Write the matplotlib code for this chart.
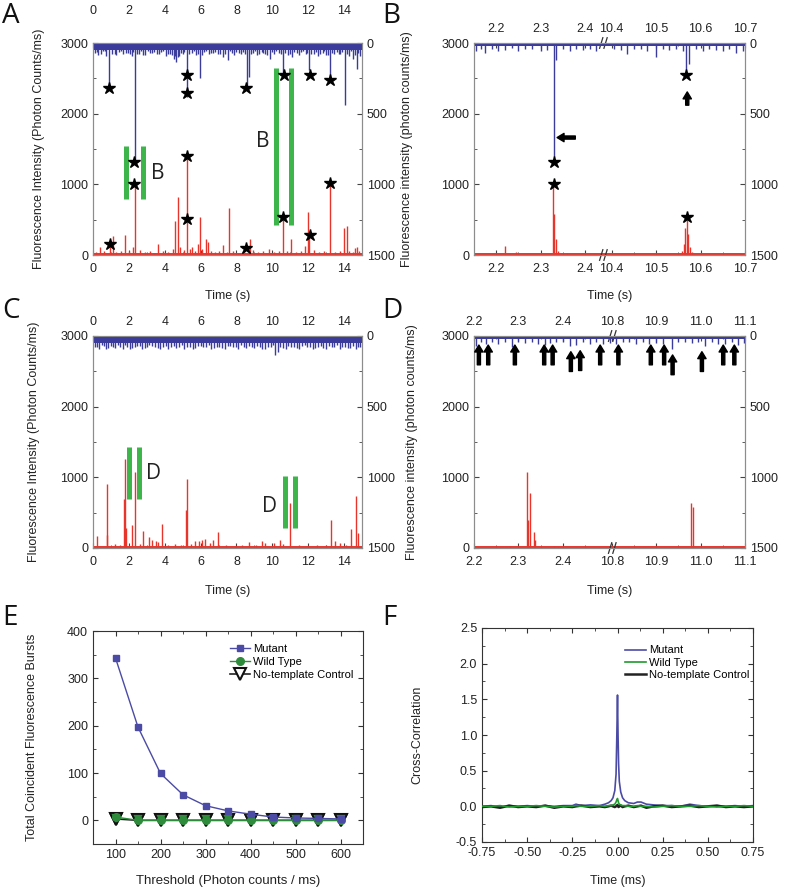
import matplotlib
matplotlib.use('Agg')
import matplotlib.pyplot as plt
from matplotlib.ticker import MultipleLocator

plt.rcParams['font.family'] = ['Liberation Sans', 'DejaVu Sans']
plt.rcParams['font.size'] = 9
plt.rcParams['xtick.direction'] = 'in'
plt.rcParams['ytick.direction'] = 'in'

BLUE = '#3b3b9b'
RED = '#e8352b'
GREEN = '#3db54a'
GREY = '#8c8c8c'
TXT = '#222222'

# ---- panel A: 15 s trace, mutant ----
A_red_t = [0.15, 0.4, 0.6, 0.93, 1.1, 1.3, 1.55, 1.8, 2.0, 2.25, 2.33, 2.6, 2.9, 3.2, 3.4,
           3.65, 3.9, 4.2, 4.45, 4.6, 4.72, 4.85, 5.05, 5.26, 5.4, 5.5, 5.7, 5.85, 5.95, 6.1,
           6.3, 6.4, 6.6, 6.8, 7.0, 7.25, 7.45, 7.6, 7.8, 8.1, 8.4, 8.75, 8.9, 9.2, 9.5,
           9.8, 10.1, 10.35, 10.6, 10.8, 11.05, 11.3, 11.6, 11.8, 11.97, 12.05, 12.3, 12.6, 12.9, 13.2,
           13.5, 13.8, 14.0, 14.15, 14.3, 14.5, 14.6, 14.7, 14.85]
A_red_v = [40, 118, 55, 180, 268, 45, 60, 283, 50, 118, 1010, 70, 45, 60, 35,
           150, 50, 40, 90, 485, 824, 120, 70, 1408, 90, 108, 60, 150, 541, 80,
           221, 188, 60, 45, 55, 141, 40, 659, 50, 35, 60, 221, 70, 40, 55,
           80, 45, 60, 541, 50, 221, 40, 55, 127, 603, 306, 70, 40, 50, 1017,
           45, 60, 381, 410, 50, 40, 94, 108, 60]
A_blue_t = [0.1, 0.3, 0.55, 0.75, 0.9, 1.2, 1.45, 1.7, 1.95, 2.15, 2.33, 2.55, 2.8, 3.05, 3.3,
            3.55, 3.8, 4.05, 4.3, 4.5, 4.65, 4.8, 5.0, 5.26, 5.5, 5.75, 5.95, 6.2, 6.45, 6.7,
            6.95, 7.25, 7.5, 7.75, 8.0, 8.25, 8.45, 8.6, 8.68, 8.9, 9.15, 9.4, 9.6, 9.85, 10.1,
            10.35, 10.6, 10.85, 11.1, 11.35, 11.6, 11.85, 12.05, 12.3, 12.55, 12.8, 13.0, 13.2, 13.45, 13.7,
            13.9, 14.05, 14.3, 14.5, 14.7, 14.9]
A_blue_v = [70, 85, 60, 90, 320, 75, 65, 80, 70, 90, 830, 75, 85, 60, 70,
            80, 65, 90, 75, 110, 134, 95, 80, 380, 70, 85, 245, 65, 80, 70,
            75, 100, 120, 70, 65, 80, 75, 322, 240, 70, 85, 65, 80, 110, 75,
            70, 217, 85, 100, 70, 65, 80, 193, 75, 90, 70, 85, 264, 75, 80,
            65, 436, 90, 110, 181, 95]
A_blue_noise_t = [0.2, 0.45, 0.65, 1.05, 1.3, 1.58, 1.82, 2.05, 2.25, 2.45, 2.68, 2.92, 3.18, 3.42, 3.68,
                  3.92, 4.18, 4.4, 4.58, 4.72, 4.9, 5.1, 5.38, 5.62, 5.85, 6.08, 6.32, 6.58, 6.82, 7.08,
                  7.38, 7.62, 7.88, 8.12, 8.35, 8.8, 9.02, 9.28, 9.5, 9.72, 9.98, 10.22, 10.48, 10.72, 10.98,
                  11.22, 11.48, 11.72, 11.95, 12.18, 12.42, 12.68, 12.9, 13.1, 13.32, 13.58, 13.8, 14.15, 14.4, 14.6,
                  14.8]
A_blue_noise_v = [65, 80, 60, 75, 85, 60, 70, 80, 65, 75, 60, 85, 70, 65, 80,
                  60, 75, 85, 90, 100, 70, 65, 80, 60, 75, 85, 60, 70, 65, 80,
                  75, 60, 85, 70, 65, 80, 60, 75, 70, 85, 65, 60, 80, 70, 75,
                  65, 85, 60, 70, 80, 65, 75, 60, 85, 70, 65, 80, 75, 60, 85,
                  70]
A_star_red_t = [0.93, 2.29, 5.26, 5.26, 8.55, 10.6, 12.08, 13.23]
A_star_red_v = [155, 1008, 1408, 509, 94, 537, 278, 1017]
A_star_blue_t = [0.87, 2.29, 5.26, 5.26, 8.55, 10.63, 12.08, 13.23]
A_star_blue_v = [316, 845, 228, 351, 316, 226, 224, 261]

# ---- panel B: zoom on two windows of A ----
B_red_t = [2.16, 2.19, 2.22, 2.245, 2.27, 2.3, 2.328, 2.331, 2.335, 2.34, 2.36, 2.39, 2.42,
           10.42, 10.45, 10.5, 10.53, 10.558, 10.562, 10.566, 10.569, 10.572, 10.576, 10.58,
           10.62, 10.66, 10.69]
B_red_v = [15, 12, 125, 40, 12, 15, 1000, 580, 230, 60, 30, 12, 10,
           10, 12, 10, 12, 60, 160, 380, 540, 300, 120, 40,
           12, 10, 12]
B_blue_t = [2.155, 2.165, 2.175, 2.19, 2.205, 2.22, 2.235, 2.25, 2.265, 2.28, 2.3, 2.315, 2.329,
            2.335, 2.35, 2.365, 2.38, 2.395, 2.41, 2.425, 10.405, 10.42, 10.435, 10.45, 10.465,
            10.48, 10.5, 10.515, 10.53, 10.545, 10.56, 10.568, 10.575, 10.59, 10.605, 10.62,
            10.635, 10.65, 10.665, 10.68, 10.695]
B_blue_v = [60, 45, 70, 40, 55, 50, 35, 60, 45, 40, 55, 50, 805,
            120, 45, 55, 40, 50, 45, 55, 40, 50, 80, 45, 40,
            55, 100, 45, 50, 40, 60, 224, 150, 45, 55, 40,
            50, 60, 45, 70, 55]
B_star_red_t = [2.329, 10.569]
B_star_red_v = [1008, 537]
B_star_blue_t = [2.329, 10.568]
B_star_blue_v = [845, 224]

# ---- panel C: 15 s trace, wild type ----
C_red_t = [0.25, 0.78, 0.8, 1.2, 1.5, 1.75, 1.8, 1.85, 2.15, 2.35, 2.6, 2.8, 3.15, 3.3, 3.5,
           3.65, 3.85, 4.2, 4.55, 4.9, 5.2, 5.25, 5.45, 5.7, 5.9, 6.1, 6.25, 6.5, 6.7, 6.95,
           7.4, 7.9, 8.3, 8.7, 9.1, 9.4, 9.6, 10.1, 10.4, 10.6, 11.0, 11.5, 12.0, 12.5, 13.0,
           13.25, 13.5, 13.75, 14.1, 14.4, 14.65, 14.8]
C_red_v = [174, 188, 904, 50, 40, 692, 1257, 283, 330, 1074, 60, 245, 150, 118, 94,
           80, 344, 45, 61, 40, 541, 980, 50, 94, 104, 118, 132, 70, 118, 221,
           40, 35, 45, 85, 40, 104, 70, 70, 118, 55, 636, 40, 35, 45, 40,
           391, 94, 70, 45, 273, 739, 212]
C_blue_t = [0.1, 0.35, 0.6, 0.85, 1.1, 1.4, 1.65, 1.9, 2.2, 2.45, 2.75, 3.0, 3.3, 3.6, 3.9,
            4.2, 4.5, 4.8, 5.1, 5.4, 5.7, 6.0, 6.3, 6.6, 6.9, 7.2, 7.5, 7.8, 8.1, 8.4,
            8.7, 9.0, 9.3, 9.6, 9.9, 10.15, 10.45, 10.75, 11.05, 11.35, 11.65, 11.95, 12.25, 12.55, 12.85,
            13.15, 13.45, 13.75, 14.05, 14.35, 14.65, 14.9]
C_blue_v = [75, 90, 70, 85, 80, 65, 95, 75, 85, 70, 90, 80, 70, 85, 75,
            90, 70, 80, 95, 75, 85, 70, 80, 90, 75, 85, 70, 80, 90, 75,
            70, 85, 80, 90, 75, 135, 80, 90, 75, 85, 70, 80, 90, 75, 85,
            70, 80, 95, 75, 85, 90, 80]
C_blue_noise_t = [0.22, 0.48, 0.72, 0.98, 1.25, 1.52, 1.78, 2.05, 2.32, 2.6, 2.88, 3.15, 3.45, 3.75, 4.05,
                  4.35, 4.65, 4.95, 5.25, 5.55, 5.85, 6.15, 6.45, 6.75, 7.05, 7.35, 7.65, 7.95, 8.25, 8.55,
                  8.85, 9.15, 9.45, 9.75, 10.05, 10.3, 10.6, 10.9, 11.2, 11.5, 11.8, 12.1, 12.4, 12.7, 13.0,
                  13.3, 13.6, 13.9, 14.2, 14.5, 14.78]
C_blue_noise_v = [80, 65, 90, 70, 85, 75, 65, 90, 80, 70, 85, 65, 75, 90, 70,
                  80, 85, 65, 75, 90, 70, 80, 65, 85, 75, 90, 70, 80, 65, 85,
                  75, 70, 90, 80, 65, 110, 85, 70, 80, 90, 65, 75, 85, 70, 90,
                  80, 65, 75, 85, 70, 80]

# ---- panel D: zoom on two windows of C ----
D_red_t = [2.21, 2.25, 2.28, 2.3, 2.319, 2.322, 2.326, 2.335, 2.338, 2.36, 2.38, 2.39, 2.43, 2.47, 2.5,
           10.83, 10.87, 10.93, 10.979, 10.982, 11.02, 11.07]
D_red_v = [10, 12, 25, 12, 1070, 400, 780, 230, 120, 12, 25, 20, 12, 10, 12,
           10, 12, 10, 640, 580, 12, 10]
D_blue_t = [2.205, 2.215, 2.228, 2.24, 2.255, 2.27, 2.285, 2.3, 2.315, 2.33, 2.345, 2.36, 2.372, 2.385,
            2.4, 2.415, 2.43, 2.445, 2.46, 2.475, 2.49, 2.505,
            10.81, 10.825, 10.84, 10.855, 10.87, 10.885, 10.9, 10.915, 10.935, 10.95, 10.965, 10.98,
            10.995, 11.01, 11.025, 11.04, 11.055, 11.07, 11.085, 11.097]
D_blue_v = [70, 45, 60, 40, 55, 45, 75, 40, 50, 45, 55, 65, 50, 45,
            40, 70, 65, 45, 55, 40, 60, 50,
            55, 45, 40, 60, 45, 55, 50, 60, 95, 45, 40, 50,
            45, 70, 40, 55, 60, 45, 65, 50]
D_arrow_t = [2.211, 2.232, 2.292, 2.358, 2.377, 2.418, 2.439, 2.484,
             10.815, 10.888, 10.918, 10.937, 11.003, 11.051, 11.076]
D_arrow_tip = [64, 64, 64, 64, 64, 111, 104, 64, 64, 64, 64, 134, 111, 64, 64]

# ---- panel E: coincident bursts vs threshold ----
E_thr = [100, 150, 200, 250, 300, 350, 400, 450, 500, 550, 600]
E_mut = [343, 197, 99, 54, 31, 20, 13, 7, 5, 4, 3]
E_wt = [7, 0, 0, 0, 0, 0, 0, 0, 0, 0, 0]
E_ntc = [3, 0, 0, 0, 0, 0, 0, 0, 0, 0, 0]

# ---- panel F: cross-correlation ----
F_t = [-0.75, -0.70, -0.65, -0.60, -0.55, -0.50, -0.45, -0.40, -0.35, -0.30,
       -0.25, -0.23, -0.20, -0.15, -0.10, -0.07, -0.05, -0.035, -0.025, -0.015,
       -0.008, -0.004, 0.0, 0.003, 0.006, 0.01, 0.018, 0.028, 0.04, 0.06,
       0.09, 0.11, 0.13, 0.16, 0.2, 0.25, 0.3, 0.35, 0.4, 0.45,
       0.5, 0.55, 0.6, 0.65, 0.7, 0.75]
F_mut = [0.0, 0.01, -0.01, 0.01, 0.0, 0.01, 0.0, 0.01, 0.0, 0.01,
         0.01, 0.03, 0.01, 0.02, 0.01, 0.03, 0.05, 0.08, 0.12, 0.22,
         0.45, 0.95, 1.56, 1.0, 0.6, 0.35, 0.2, 0.12, 0.08, 0.05,
         0.04, 0.06, 0.06, 0.03, 0.02, 0.01, 0.01, 0.0, 0.03, 0.01,
         0.0, 0.01, 0.0, 0.01, 0.0, 0.01]
F_wt = [0.0, 0.0, 0.01, -0.01, 0.0, 0.0, 0.01, 0.0, -0.01, 0.0,
        0.0, 0.01, 0.0, 0.0, 0.01, 0.0, 0.01, 0.01, 0.02, 0.03,
        0.06, 0.09, 0.11, 0.08, 0.05, 0.03, 0.02, 0.01, 0.01, 0.0,
        0.0, 0.01, 0.0, 0.0, -0.01, 0.0, 0.01, 0.0, 0.0, 0.01,
        0.0, -0.01, 0.0, 0.0, 0.01, 0.0]
F_ntc = [-0.01, 0.0, -0.02, 0.01, -0.01, 0.0, -0.01, 0.01, -0.02, 0.0,
         -0.01, 0.0, 0.01, -0.01, 0.0, -0.01, 0.0, 0.01, 0.0, -0.01,
         0.0, 0.01, 0.02, 0.0, -0.01, 0.0, 0.01, -0.01, 0.0, 0.01,
         -0.01, 0.0, 0.01, -0.02, 0.0, 0.01, -0.01, 0.0, 0.01, -0.01,
         0.0, 0.01, -0.01, 0.0, -0.01, 0.0]

fig = plt.figure(figsize=(8, 8.93), dpi=100)


def px_axes(l, t, r, b):
    return fig.add_axes([l / 800, 1 - b / 893, (r - l) / 800, (b - t) / 893])


def brk(t, cut, start):
    # map times of a broken axis onto one continuous coordinate
    return [x if x < 5 else x - start + cut for x in t]


def trace_axes(ax, xlim, ylabel, ylab_x, xlab_y):
    ax.set_xlim(*xlim)
    ax.set_ylim(0, 3000)
    ax.set_yticks([0, 1000, 2000, 3000])
    ax.yaxis.set_minor_locator(MultipleLocator(500))
    ax.tick_params(which='both', top=True, labeltop=True, colors='#444444', labelcolor=TXT)
    ax.tick_params(axis='x', which='major', pad=5.5)
    ax2 = ax.twinx()
    ax2.set_ylim(1500, 0)
    ax2.set_yticks([0, 500, 1000, 1500])
    ax2.yaxis.set_minor_locator(MultipleLocator(250))
    ax2.tick_params(which='both', colors='#444444', labelcolor=TXT)
    for sp in list(ax.spines.values()) + list(ax2.spines.values()):
        sp.set_color(GREY)
    ax.set_xlabel('Time (s)', color=TXT)
    ax.xaxis.set_label_coords(0.5, xlab_y)
    ax.set_ylabel(ylabel, color=TXT)
    ax.yaxis.set_label_coords(ylab_x, 0.5)
    return ax2


def draw_traces(ax, ax2, rt, rv, bt, bv, xlim, band, red_base):
    ax.plot(xlim, [red_base, red_base], color=RED, lw=1.4, zorder=2)
    ax.vlines(rt, 0, rv, color=RED, lw=1.0, zorder=2)
    ax2.fill_between(xlim, 0, band, color=BLUE, lw=0, zorder=2)
    ax2.vlines(bt, 0, bv, color=BLUE, lw=1.0, zorder=2)


def break_marks(ax, xb):
    for y0 in (0, 1):
        for dx in (-0.012, 0.004):
            ax.plot([xb + dx, xb + dx + 0.012], [y0 - 0.025, y0 + 0.025], color='#333333',
                    lw=0.9, transform=ax.transAxes, clip_on=False, zorder=5)


def stars(ax, t, v):
    ax.plot(t, v, ls='none', marker='*', ms=9, color='black', zorder=6)


ARROW = 'simple,head_length=1.0,head_width=1.2,tail_width=0.45'


def up_arrow(ax, x, tip, length):
    ax.annotate('', xy=(x, tip), xytext=(x, tip + length),
                arrowprops=dict(arrowstyle=ARROW, color='black', mutation_scale=5,
                                shrinkA=0, shrinkB=0), zorder=6)


YL_A = 'Fluorescence Intensity (Photon Counts/ms)'
YL_B = 'Fluorescence intensity (photon counts/ms)'

# ---- A ----
axA = px_axes(93, 43, 362, 255)
axA2 = trace_axes(axA, (0, 15), YL_A, -0.178, -0.165)
axA.set_xticks(range(0, 16, 2))
axA.xaxis.set_minor_locator(MultipleLocator(1))
axA.tick_params(axis='x', labeltop=False)
topA = axA.secondary_xaxis('top')
topA.set_xticks(range(0, 16, 2))
topA.tick_params(length=0, pad=19, labelcolor=TXT)
topA.spines['top'].set_visible(False)
draw_traces(axA, axA2, A_red_t, A_red_v, A_blue_t, A_blue_v, (0, 15), 50, 18)
axA2.vlines(A_blue_noise_t, 0, A_blue_noise_v, color=BLUE, lw=1.0, zorder=2)
stars(axA, A_star_red_t, A_star_red_v)
stars(axA2, A_star_blue_t, A_star_blue_v)
for x0, x1, y0, y1 in [(1.86, 2.79, 796, 1540), (10.19, 11.04, 424, 2647)]:
    axA.vlines([x0, x1], y0, y1, color=GREEN, lw=3.6, zorder=4)
axA.text(3.62, 1154, 'B', fontsize=15, family='Open Sans', ha='center', va='center', color=TXT)
axA.text(9.48, 1600, 'B', fontsize=15, family='Open Sans', ha='center', va='center', color=TXT)

# ---- B ----
B_CUT, B_START = 2.44, 10.38
axB = px_axes(474, 43, 745, 255)
bxlim = (2.15, B_CUT + 10.70 - B_START)
axB2 = trace_axes(axB, bxlim, YL_B, -0.225, -0.165)
bt_ticks = [2.2, 2.3, 2.4, 10.4, 10.5, 10.6, 10.7]
axB.set_xticks(brk(bt_ticks, B_CUT, B_START))
axB.set_xticklabels([f'{v:.1f}' for v in bt_ticks])
axB.set_xticks(brk([2.25, 2.35, 10.45, 10.55, 10.65], B_CUT, B_START), minor=True)
draw_traces(axB, axB2, brk(B_red_t, B_CUT, B_START), B_red_v,
            brk(B_blue_t, B_CUT, B_START), B_blue_v, bxlim, 18, 8)
stars(axB, brk(B_star_red_t, B_CUT, B_START), B_star_red_v)
stars(axB2, brk(B_star_blue_t, B_CUT, B_START), B_star_blue_v)
break_marks(axB, (B_CUT - bxlim[0]) / (bxlim[1] - bxlim[0]))
axB2.annotate('', xy=(2.337, 669), xytext=(2.378, 669),
              arrowprops=dict(arrowstyle=ARROW, color='black', mutation_scale=5,
                              shrinkA=0, shrinkB=0))
up_arrow(axB2, brk([10.57], B_CUT, B_START)[0], 346, 94)

# ---- C ----
axC = px_axes(93, 336, 362, 548)
axC2 = trace_axes(axC, (0, 15), YL_A, -0.197, -0.175)
axC.set_xticks(range(0, 16, 2))
axC.xaxis.set_minor_locator(MultipleLocator(1))
draw_traces(axC, axC2, C_red_t, C_red_v, C_blue_t, C_blue_v, (0, 15), 50, 18)
axC2.vlines(C_blue_noise_t, 0, C_blue_noise_v, color=BLUE, lw=1.0, zorder=2)
for x0, x1, y0, y1 in [(2.0, 2.56, 697, 1436), (10.69, 11.25, 283, 1013)]:
    axC.vlines([x0, x1], y0, y1, color=GREEN, lw=3.6, zorder=4)
axC.text(3.38, 1060, 'D', fontsize=15, family='Open Sans', ha='center', va='center', color=TXT)
axC.text(9.85, 589, 'D', fontsize=15, family='Open Sans', ha='center', va='center', color=TXT)

# ---- D ----
D_CUT, D_START = 2.51, 10.8
axD = px_axes(474, 336, 745, 548)
dxlim = (2.2, D_CUT + 11.1 - D_START)
axD2 = trace_axes(axD, dxlim, YL_B, -0.207, -0.175)
dt_ticks = [2.2, 2.3, 2.4, 10.8, 10.9, 11.0, 11.1]
axD.set_xticks(brk(dt_ticks, D_CUT, D_START))
axD.set_xticklabels([f'{v:.1f}' for v in dt_ticks])
axD.set_xticks(brk([2.25, 2.35, 2.45, 10.85, 10.95, 11.05], D_CUT, D_START), minor=True)
draw_traces(axD, axD2, brk(D_red_t, D_CUT, D_START), D_red_v,
            brk(D_blue_t, D_CUT, D_START), D_blue_v, dxlim, 20, 8)
break_marks(axD, (D_CUT - dxlim[0]) / (dxlim[1] - dxlim[0]))
for x, tip in zip(brk(D_arrow_t, D_CUT, D_START), D_arrow_tip):
    up_arrow(axD2, x, tip, 140)

# ---- E ----
MUT_C = '#4b4ba5'
WT_C = '#2e8b3c'
axE = px_axes(93, 631, 363, 844)
axE.plot(E_thr, E_ntc, color='#222222', lw=1.2, marker='v', ms=8, mfc='white', mec='#111111',
         mew=1.5, label='No-template Control', zorder=3)
axE.plot(E_thr, E_wt, color=WT_C, lw=1.0, marker='o', ms=5.5, mfc=WT_C, mec=WT_C,
         label='Wild Type', zorder=4)
axE.plot(E_thr, E_mut, color=MUT_C, lw=1.0, marker='s', ms=5, mfc=MUT_C, mec=MUT_C,
         label='Mutant', zorder=5)
axE.set_xlim(50, 650)
axE.set_ylim(-50, 400)
axE.set_xticks(range(100, 601, 100))
axE.xaxis.set_minor_locator(MultipleLocator(50))
axE.set_yticks(range(0, 401, 100))
axE.yaxis.set_minor_locator(MultipleLocator(50))
axE.set_xlabel('Threshold (Photon counts / ms)', fontsize=9.5, color=TXT)
axE.xaxis.set_label_coords(0.5, -0.146)
axE.set_ylabel('Total Coincident Fluorescence Bursts', color=TXT)
axE.yaxis.set_label_coords(-0.204, 0.5)
h, l = axE.get_legend_handles_labels()
axE.legend(h[::-1], l[::-1], loc='upper left', bbox_to_anchor=(0.47, 0.985), frameon=False,
           fontsize=8, handlelength=1.8, handletextpad=0.3, labelspacing=0.25)
# triangle markers get the green of the wild type drawn over them
axE.plot(E_thr, E_ntc, ls='none', marker='v', ms=8.5, mfc=WT_C, mec='#111111', mew=1.3, zorder=3.5)

# ---- F ----
axF = px_axes(482, 628, 753, 842)
axF.plot(F_t, F_ntc, color='#222222', lw=1.8, label='No-template Control', zorder=3)
axF.plot(F_t, F_wt, color='#1f9a2e', lw=1.2, label='Wild Type', zorder=4)
axF.plot(F_t, F_mut, color=MUT_C, lw=1.2, label='Mutant', zorder=2)
axF.set_xlim(-0.75, 0.75)
axF.set_ylim(-0.5, 2.5)
xt = [-0.75, -0.5, -0.25, 0, 0.25, 0.5, 0.75]
axF.set_xticks(xt)
axF.set_xticklabels([f'{v:.2f}' for v in xt])
axF.xaxis.set_minor_locator(MultipleLocator(0.125))
yt = [-0.5, 0, 0.5, 1.0, 1.5, 2.0, 2.5]
axF.set_yticks(yt)
axF.set_yticklabels([f'{v:.1f}' for v in yt])
axF.yaxis.set_minor_locator(MultipleLocator(0.25))
axF.set_xlabel('Time (ms)', color=TXT)
axF.xaxis.set_label_coords(0.5, -0.154)
axF.set_ylabel('Cross-Correlation', color=TXT)
axF.yaxis.set_label_coords(-0.218, 0.5)
h, l = axF.get_legend_handles_labels()
axF.legend([h[2], h[1], h[0]], [l[2], l[1], l[0]], loc='upper left', bbox_to_anchor=(0.49, 0.965),
           frameon=False, fontsize=8, handlelength=1.9, handletextpad=0.3, labelspacing=0.2)

for ax in (axE, axF):
    ax.tick_params(which='both', top=True, right=True, colors='#333333', labelcolor=TXT)
    for sp in ax.spines.values():
        sp.set_color('#333333')

# panel letters
for letter, x, y in [('A', 2, 2), ('B', 382, 2), ('C', 2, 297), ('D', 382, 297),
                     ('E', 2, 604), ('F', 382, 604)]:
    fig.text(x / 800, 1 - y / 893, letter, fontsize=20, family='Open Sans', va='top', ha='left',
             color='#111111')

fig.savefig('out.png', dpi=100)
